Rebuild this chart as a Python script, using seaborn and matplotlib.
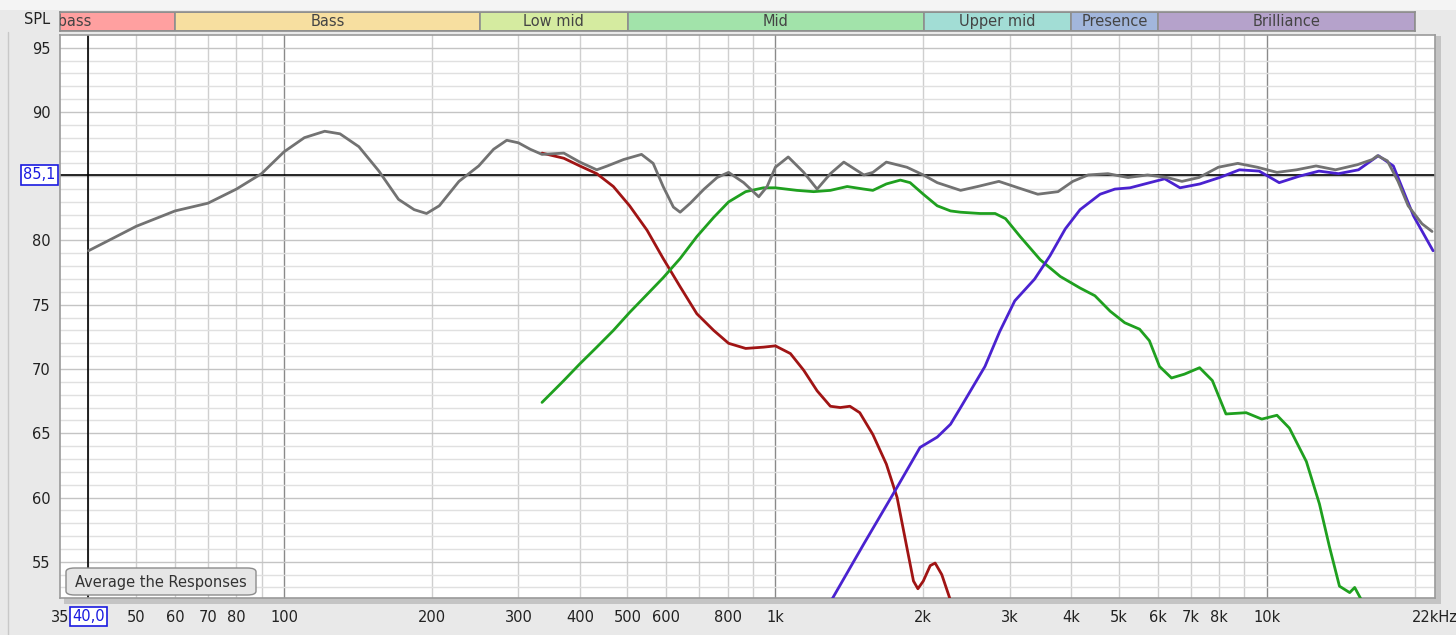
import numpy as np
import pandas as pd
import matplotlib.pyplot as plt
import matplotlib.patches as mpatches
import seaborn as sns

# Data

## summed response (gray)
sum_freq = [40, 45, 50, 60, 70, 80, 90, 100, 110, 121, 130, 142, 156, 171, 184, 195, 207, 227,
            249, 267, 284, 300, 317, 335, 371, 400, 433, 455, 491, 534, 564, 591, 620, 640,
            671, 716, 761, 803, 862, 925, 962, 1000, 1062, 1142, 1216, 1294, 1378, 1514, 1579,
            1682, 1852, 2000, 2135, 2382, 2580, 2850, 3120, 3420, 3760, 4030, 4330, 4750, 5220,
            5720, 6270, 6720, 7280, 7970, 8730, 9570, 10490, 11500, 12600, 13800, 15300, 16400,
            16800, 17600, 18500, 19400, 20700, 21700]
sum_spl = [79.2, 80.2, 81.1, 82.3, 82.9, 84.0, 85.2, 86.9, 88.0, 88.5, 88.3, 87.3, 85.4, 83.2,
           82.4, 82.1, 82.7, 84.6, 85.8, 87.1, 87.8, 87.6, 87.1, 86.7, 86.8, 86.1, 85.5, 85.8,
           86.3, 86.7, 86.0, 84.2, 82.6, 82.2, 82.9, 84.0, 84.9, 85.3, 84.5, 83.4, 84.2, 85.7,
           86.5, 85.3, 84.0, 85.2, 86.1, 85.1, 85.3, 86.1, 85.7, 85.1, 84.5, 83.9, 84.2, 84.6,
           84.1, 83.6, 83.8, 84.6, 85.1, 85.2, 84.9, 85.1, 84.9, 84.6, 84.9, 85.7, 86.0, 85.7,
           85.3, 85.5, 85.8, 85.5, 85.9, 86.3, 86.6, 86.2, 84.6, 82.7, 81.3, 80.7]

## woofer (red)
woof_freq = [335, 371, 400, 433, 468, 505, 548, 591, 640, 692, 749, 803, 870, 946, 1000, 1073,
             1142, 1216, 1294, 1355, 1418, 1485, 1579, 1682, 1769, 1852, 1910, 1950, 2000,
             2066, 2114, 2181, 2276]
woof_spl = [86.8, 86.4, 85.8, 85.2, 84.2, 82.7, 80.8, 78.6, 76.4, 74.3, 73.0, 72.0, 71.6, 71.7,
            71.8, 71.2, 69.9, 68.3, 67.1, 67.0, 67.1, 66.6, 64.9, 62.6, 60.0, 56.1, 53.5, 52.9,
            53.5, 54.7, 54.9, 54.0, 51.9]

## midrange (green)
mid_freq = [335, 371, 400, 433, 468, 505, 548, 591, 640, 692, 749, 803, 870, 946, 1000, 1106,
            1196, 1294, 1400, 1514, 1579, 1682, 1796, 1880, 2000, 2135, 2272, 2382, 2610, 2800,
            2940, 3150, 3460, 3800, 4170, 4470, 4800, 5140, 5510, 5770, 6050, 6400, 6800, 7300,
            7750, 8260, 9080, 9770, 10490, 11120, 12040, 12800, 13410, 14060, 14750, 15100,
            15700]
mid_spl = [67.4, 69.1, 70.4, 71.7, 73.0, 74.4, 75.8, 77.1, 78.6, 80.3, 81.8, 83.0, 83.8, 84.1,
           84.1, 83.9, 83.8, 83.9, 84.2, 84.0, 83.9, 84.4, 84.7, 84.5, 83.6, 82.7, 82.3, 82.2,
           82.1, 82.1, 81.7, 80.3, 78.5, 77.2, 76.3, 75.7, 74.5, 73.6, 73.1, 72.2, 70.2, 69.3,
           69.6, 70.1, 69.1, 66.5, 66.6, 66.1, 66.4, 65.4, 62.8, 59.5, 56.2, 53.1, 52.6, 53.0,
           51.8]

## tweeter (blue)
tw_freq = [1300, 1514, 1769, 1970, 2135, 2272, 2382, 2670, 2860, 3070, 3370, 3620, 3890,
           4170, 4580, 4910, 5270, 5780, 6200, 6660, 7310, 8020, 8800, 9650, 10600, 11640,
           12770, 14000, 15370, 16870, 18100, 19000, 19900, 21800]
tw_spl = [52.0, 56.4, 60.8, 63.9, 64.7, 65.7, 67.0, 70.2, 72.9, 75.3, 77.0, 78.8, 80.9,
          82.4, 83.6, 84.0, 84.1, 84.5, 84.8, 84.1, 84.4, 84.9, 85.5, 85.4, 84.5, 85.0, 85.4,
          85.2, 85.5, 86.6, 85.8, 83.8, 81.9, 79.2]

## frequency bands along the top
band_names = ['Sub bass', 'Bass', 'Low mid', 'Mid', 'Upper mid', 'Presence', 'Brilliance']
band_lo = [20, 60, 250, 500, 2000, 4000, 6000]
band_hi = [60, 250, 500, 2000, 4000, 6000, 20000]
band_colors = ['#FFA0A0', '#F7DFA0', '#D5EBA0', '#A2E3AA', '#A2DDD5', '#A2B6DC', '#B5A2CB']

## axis ticks
x_ticks = [35, 40, 50, 60, 70, 80, 100, 200, 300, 400, 500, 600, 800, 1000, 2000, 3000,
           4000, 5000, 6000, 7000, 8000, 10000, 22000]
x_labels = ['35', '', '50', '60', '70', '80', '100', '200', '300', '400', '500', '600', '800',
            '1k', '2k', '3k', '4k', '5k', '6k', '7k', '8k', '10k', '22kHz']
y_ticks = [55, 60, 65, 70, 75, 80, 90, 95]
cursor_freq = 40.0
cursor_spl = 85.1

# Figure

sns.set_style('white')
plt.rcParams['font.family'] = ['DejaVu Sans']

W, H = 1456, 635
fig = plt.figure(figsize=(W / 100, H / 100), dpi=100, facecolor='#E9E9E9')

def box(x0, y0, x1, y1):
    # pixel box -> figure fraction rect
    return [x0 / W, 1 - y1 / H, (x1 - x0) / W, (y1 - y0) / H]

# light strip above the bands
fig.patches.append(mpatches.Rectangle((0, 1 - 10 / H), 1, 10 / H, transform=fig.transFigure,
                                      facecolor='#F4F4F4', edgecolor='none', zorder=-2))
# drop shadow of the plot frame
fig.patches.append(mpatches.Rectangle((64 / W, 1 - 604 / H), 1377 / W, 568 / H,
                                      transform=fig.transFigure, facecolor='#C4C4C4',
                                      edgecolor='none', zorder=-2))
fig.lines.append(plt.Line2D([8 / W, 8 / W], [0, 1 - 32 / H], transform=fig.transFigure,
                            color='#C8C8C8', lw=1, zorder=-2))

ax = fig.add_axes(box(60, 35, 1435, 598))
ax.set_facecolor('white')
ax.set_xscale('log')
ax.set_xlim(35, 22000)
ax.set_ylim(52.18, 95.99)

# grid
for f in [40, 50, 60, 70, 80, 90, 200, 300, 400, 500, 600, 700, 800, 900,
          2000, 3000, 4000, 5000, 6000, 7000, 8000, 9000, 20000]:
    ax.axvline(f, color='#CFCFCF', lw=1, zorder=1)
for f in [100, 1000, 10000]:
    ax.axvline(f, color='#8A8A8A', lw=1, zorder=1)
for v in range(53, 96):
    ax.axhline(v, color='#C4C4C4' if v % 5 == 0 else '#E0E0E0', lw=1, zorder=1)

# cursor lines
ax.axvline(cursor_freq, color='black', lw=1.2, zorder=2)
ax.axhline(cursor_spl, color='black', lw=1.2, zorder=2)

# responses
df = pd.concat([
    pd.DataFrame({'freq': woof_freq, 'spl': woof_spl, 'drv': 'woofer'}),
    pd.DataFrame({'freq': mid_freq, 'spl': mid_spl, 'drv': 'mid'}),
    pd.DataFrame({'freq': tw_freq, 'spl': tw_spl, 'drv': 'tweeter'}),
    pd.DataFrame({'freq': sum_freq, 'spl': sum_spl, 'drv': 'sum'}),
])
palette = {'woofer': '#A01414', 'mid': '#1FA01F', 'tweeter': '#4A22D0', 'sum': '#727272'}
sns.lineplot(data=df, x='freq', y='spl', hue='drv', palette=palette, units='drv',
             estimator=None, sort=False, lw=2.0, legend=False, ax=ax, zorder=3,
             solid_joinstyle='round', solid_capstyle='round')

ax.set_xticks(x_ticks)
ax.set_xticklabels(x_labels)
ax.minorticks_off()
ax.set_yticks(y_ticks)
ax.tick_params(axis='both', length=0, labelsize=10.5, colors='#222222')
ax.tick_params(axis='x', pad=9)
ax.tick_params(axis='y', pad=7)
ax.set_xlabel('')
ax.set_ylabel('')
for s in ax.spines.values():
    s.set_color('#9A9A9A')
    s.set_linewidth(1.2)

# cursor value boxes
ax.text(cursor_freq, 52.18 - 1.45, '40,0', ha='center', va='center', fontsize=10.5,
        color='#1A1AE0', bbox=dict(boxstyle='square,pad=0.15', fc='white', ec='#1A1AE0', lw=1.2),
        clip_on=False, zorder=5)
ax.text(-0.003, cursor_spl, '85,1', transform=ax.get_yaxis_transform(), ha='right',
        va='center', fontsize=10.5, color='#1A1AE0',
        bbox=dict(boxstyle='square,pad=0.15', fc='white', ec='#1A1AE0', lw=1.2), zorder=5)

fig.text(24 / W, 1 - 19 / H, 'SPL', ha='left', va='center', fontsize=10.5, color='#222222')

# button
btn = mpatches.FancyBboxPatch((66 / W, 1 - 595 / H), 190 / W, 27 / H,
                              boxstyle='round,pad=0,rounding_size=0.006',
                              transform=fig.transFigure, facecolor='#E6E6E6',
                              edgecolor='#8C8C8C', lw=1, zorder=6)
fig.patches.append(btn)
fig.text(161 / W, 1 - 582 / H, 'Average the Responses', ha='center', va='center',
         fontsize=10.5, color='#333333', zorder=7)

# band strip
bx = fig.add_axes(box(60, 12, 1415, 31))
bx.set_xscale('log')
bx.set_xlim(35, 20000)
bx.set_ylim(0, 1)
for name, lo, hi, c in zip(band_names, band_lo, band_hi, band_colors):
    bx.axvspan(lo, hi, color=c, ec='#8E8E8E', lw=1.2)
    bx.text(np.sqrt(lo * hi), 0.48, name, ha='center', va='center', fontsize=10.5,
            color='#444444', clip_on=True)
bx.set_xticks([])
bx.set_yticks([])
bx.minorticks_off()
for s in bx.spines.values():
    s.set_color('#8E8E8E')
    s.set_linewidth(1.2)

fig.savefig('out.png', dpi=100, facecolor=fig.get_facecolor())
